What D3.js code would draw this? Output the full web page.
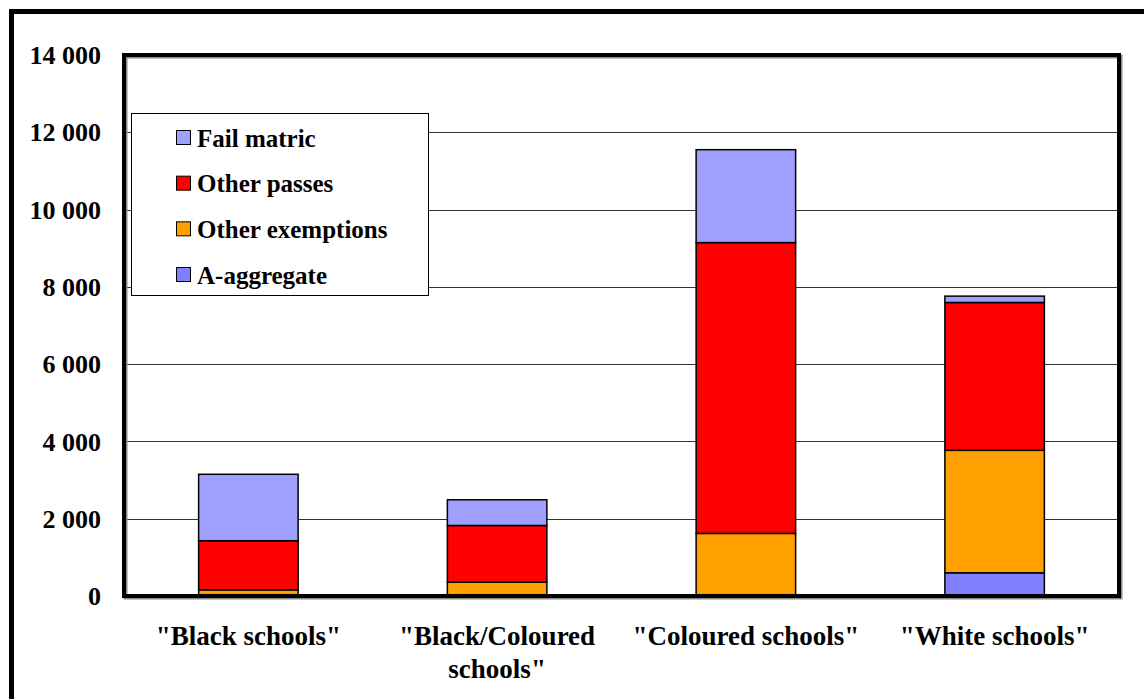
<!DOCTYPE html>
<html>
<head>
<meta charset="utf-8">
<script src="https://cdn.jsdelivr.net/npm/d3@7"></script>
<style>
  body { margin: 0; background: #fff; }
  svg { display: block; }
  text { font-family: "Liberation Serif", "Times New Roman", serif; font-weight: bold; fill: #000; }
</style>
</head>
<body>
<svg id="chart" width="1144" height="699"></svg>
<script>
// categories and stacked series (bottom to top)
var categories = ['"Black schools"', '"Black/Coloured\nschools"', '"Coloured schools"', '"White schools"'];
var seriesNames = ["A-aggregate", "Other exemptions", "Other passes", "Fail matric"];
var aAggregate = [0, 0, 0, 600];
var otherExemptions = [160, 360, 1620, 3170];
var otherPasses = [1270, 1465, 7525, 3825];
var failMatric = [1720, 665, 2405, 165];
var yTicks = [0, 2000, 4000, 6000, 8000, 10000, 12000, 14000];
var colors = ["#8080ff", "#ff9f00", "#ff0000", "#9f9fff"];

var svg = d3.select("#chart");

var plotLeft = 124, plotRight = 1119, plotTop = 55, plotBottom = 596;

// outer frame, runs off the picture on right and bottom
svg.append("path")
    .attr("d", "M11.5,712 L11.5,11.5 L1160,11.5")
    .attr("fill", "none")
    .attr("stroke", "#000")
    .attr("stroke-width", 5);

var rows = categories.map(function (c, i) {
    return { cat: c, "A-aggregate": aAggregate[i], "Other exemptions": otherExemptions[i],
             "Other passes": otherPasses[i], "Fail matric": failMatric[i] };
});

var x = d3.scaleBand()
    .domain(categories)
    .range([plotLeft, plotRight])
    .paddingInner(0.6)
    .paddingOuter(0.3);

var y = d3.scaleLinear()
    .domain([0, 14000])
    .range([plotBottom, plotTop]);

// gridlines
svg.append("g")
    .selectAll("line")
    .data(yTicks)
    .enter().append("line")
    .attr("x1", plotLeft)
    .attr("x2", plotRight)
    .attr("y1", function (d) { return Math.round(y(d)) + 0.5; })
    .attr("y2", function (d) { return Math.round(y(d)) + 0.5; })
    .attr("stroke", "#333")
    .attr("stroke-width", 1);

// y tick labels
svg.append("g")
    .selectAll("text")
    .data(yTicks)
    .enter().append("text")
    .attr("x", 101)
    .attr("y", function (d) { return y(d); })
    .attr("dy", "0.35em")
    .attr("text-anchor", "end")
    .style("font-size", "26px")
    .text(function (d) { return d3.format(",")(d).replace(/,/g, " "); });

// stacked bars
var stack = d3.stack().keys(seriesNames);
var layers = stack(rows);

svg.append("g")
    .selectAll("g")
    .data(layers)
    .enter().append("g")
    .attr("fill", function (d, i) { return colors[i]; })
    .selectAll("rect")
    .data(function (d) { return d.filter(function (p) { return p[1] > p[0]; }); })
    .enter().append("rect")
    .attr("x", function (d) { return x(d.data.cat); })
    .attr("width", x.bandwidth())
    .attr("y", function (d) { return y(d[1]); })
    .attr("height", function (d) { return y(d[0]) - y(d[1]); })
    .attr("stroke", "#000")
    .attr("stroke-width", 1.5);

// plot frame with a slight grey shadow
svg.append("rect")
    .attr("x", plotLeft + 1.5).attr("y", plotTop + 1.5)
    .attr("width", plotRight - plotLeft).attr("height", plotBottom - plotTop)
    .attr("fill", "none").attr("stroke", "#888").attr("stroke-width", 4);
svg.append("rect")
    .attr("x", plotLeft).attr("y", plotTop)
    .attr("width", plotRight - plotLeft).attr("height", plotBottom - plotTop)
    .attr("fill", "none").attr("stroke", "#000").attr("stroke-width", 4);

// category labels
var xl = svg.append("g")
    .selectAll("text")
    .data(categories)
    .enter().append("text")
    .attr("x", function (d) { return x(d) + x.bandwidth() / 2; })
    .attr("y", 645)
    .attr("text-anchor", "middle")
    .style("font-size", "27px");

xl.each(function (d) {
    var t = d3.select(this);
    d.split("\n").forEach(function (line, i) {
        t.append("tspan")
            .attr("x", x(d) + x.bandwidth() / 2)
            .attr("dy", i == 0 ? 0 : 33)
            .text(line);
    });
});

// legend (top entry first)
var legend = svg.append("g");
legend.append("rect")
    .attr("x", 131.5).attr("y", 113.5)
    .attr("width", 297).attr("height", 182)
    .attr("fill", "#fff").attr("stroke", "#000").attr("stroke-width", 1);

var legendOrder = seriesNames.slice().reverse();
var legendY = d3.scalePoint().domain(legendOrder).range([138, 275]);

var items = legend.selectAll("g.item")
    .data(legendOrder)
    .enter().append("g")
    .attr("class", "item")
    .attr("transform", function (d) { return "translate(0," + legendY(d) + ")"; });

items.append("rect")
    .attr("x", 176.5).attr("y", -7.5)
    .attr("width", 14).attr("height", 14)
    .attr("fill", function (d) { return colors[seriesNames.indexOf(d)]; })
    .attr("stroke", "#000").attr("stroke-width", 1);

items.append("text")
    .attr("x", 197)
    .attr("dy", "0.35em")
    .style("font-size", "25px")
    .text(function (d) { return d; });
</script>
</body>
</html>
